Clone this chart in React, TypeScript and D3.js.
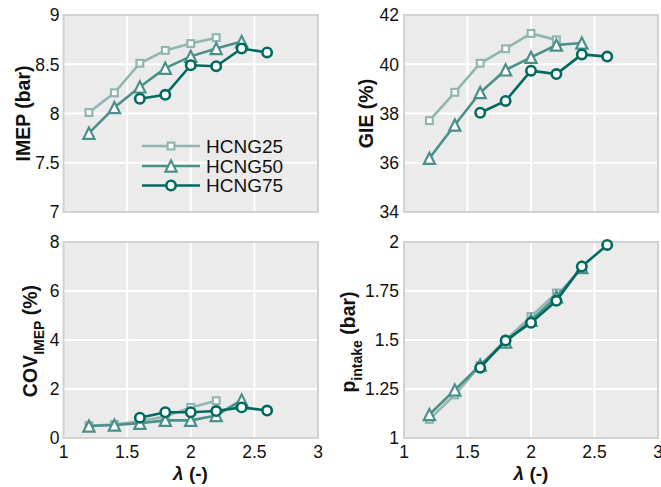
import React from 'react';
import * as d3 from 'd3';

// ---- data ----
const lambda25 = [1.2, 1.4, 1.6, 1.8, 2.0, 2.2];
const lambda50 = [1.2, 1.4, 1.6, 1.8, 2.0, 2.2, 2.4];
const lambda75 = [1.6, 1.8, 2.0, 2.2, 2.4, 2.6];

const imep25 = [8.01, 8.21, 8.51, 8.64, 8.71, 8.77];
const imep50 = [7.8, 8.06, 8.27, 8.46, 8.58, 8.66, 8.73];
const imep75 = [8.15, 8.19, 8.49, 8.48, 8.66, 8.62];

const gie25 = [37.71, 38.86, 40.04, 40.63, 41.25, 40.99];
const gie50 = [36.18, 37.53, 38.85, 39.77, 40.28, 40.78, 40.86];
const gie75 = [38.03, 38.51, 39.74, 39.6, 40.4, 40.31];

const cov25 = [0.5, 0.55, 0.68, 0.88, 1.25, 1.52];
const cov50 = [0.49, 0.53, 0.6, 0.72, 0.72, 0.92, 1.55];
const cov75 = [0.83, 1.05, 1.05, 1.1, 1.25, 1.12];

const pin25 = [1.095, 1.22, 1.37, 1.5, 1.62, 1.74];
const pin50 = [1.12, 1.245, 1.372, 1.49, 1.6, 1.72, 1.87];
const pin75 = [1.359, 1.497, 1.588, 1.7, 1.875, 1.985];

const seriesNames = ['HCNG25', 'HCNG50', 'HCNG75'];
const seriesMarkers = ['square', 'triangle', 'circle'];
const seriesColors = ['#91b5b1', '#4b8f89', '#006a5f'];

const xTicks = [1, 1.5, 2, 2.5, 3];
const xTickLabels = ['1', '1.5', '2', '2.5', '3'];
const imepTicks = [7, 7.5, 8, 8.5, 9];
const imepTickLabels = ['7', '7.5', '8', '8.5', '9'];
const gieTicks = [34, 36, 38, 40, 42];
const gieTickLabels = ['34', '36', '38', '40', '42'];
const covTicks = [0, 2, 4, 6, 8];
const covTickLabels = ['0', '2', '4', '6', '8'];
const pinTicks = [1, 1.25, 1.5, 1.75, 2];
const pinTickLabels = ['1', '1.25', '1.5', '1.75', '2'];

const FONT = '"Liberation Sans", Arial, Helvetica, sans-serif';
const BG = '#ebebeb';
const BORDER = '#d2d2d2';

function Marker({ type, x, y, color }: { type: string; x: number; y: number; color: string }) {
  if (type === 'square') {
    const s = 3.4;
    return <rect x={x - s} y={y - s} width={2 * s} height={2 * s} fill="#fff" stroke={color} strokeWidth={2.2} />;
  }
  if (type === 'triangle') {
    const s = 5.6;
    const p = `M${x},${y - s}L${x - s},${y + s}L${x + s},${y + s}Z`;
    return <path d={p} fill="#fff" stroke={color} strokeWidth={2.2} strokeLinejoin="miter" />;
  }
  return <circle cx={x} cy={y} r={4.7} fill="#fff" stroke={color} strokeWidth={2.6} />;
}

type PanelProps = {
  x0: number; x1: number; y0: number; y1: number;
  yDomain: [number, number];
  yTicks: number[]; yTickLabels: string[];
  xs: number[][]; ys: number[][];
  showXTickLabels: boolean;
  tickGap: number;
};

function Panel(p: PanelProps) {
  const x = d3.scaleLinear().domain([1, 3]).range([p.x0, p.x1]);
  const y = d3.scaleLinear().domain(p.yDomain).range([p.y1, p.y0]);
  const line = d3.line<[number, number]>().x(d => x(d[0])).y(d => y(d[1]));
  return (
    <g>
      <rect x={p.x0} y={p.y0} width={p.x1 - p.x0} height={p.y1 - p.y0} fill={BG} />
      {xTicks.slice(1, -1).map(t => (
        <line key={'gx' + t} x1={x(t)} x2={x(t)} y1={p.y0} y2={p.y1} stroke="#fff" strokeWidth={2} />
      ))}
      {p.yTicks.slice(1, -1).map(t => (
        <line key={'gy' + t} x1={p.x0} x2={p.x1} y1={y(t)} y2={y(t)} stroke="#fff" strokeWidth={2} />
      ))}
      <rect x={p.x0} y={p.y0} width={p.x1 - p.x0} height={p.y1 - p.y0} fill="none" stroke={BORDER} strokeWidth={2} />
      {p.yTicks.map((t, i) => (
        <text key={'ty' + t} x={p.x0 - p.tickGap} y={y(t)} dy="0.36em" textAnchor="end" fontSize={17.5} fill="#111">
          {p.yTickLabels[i]}
        </text>
      ))}
      {p.showXTickLabels && xTicks.map((t, i) => (
        <text key={'tx' + t} x={x(t)} y={p.y1 + 20} textAnchor="middle" fontSize={17.5} fill="#111">
          {xTickLabels[i]}
        </text>
      ))}
      {p.xs.map((xv, si) => {
        const pts: [number, number][] = xv.map((v, i) => [v, p.ys[si][i]]);
        return (
          <g key={'s' + si}>
            <path d={line(pts) || ''} fill="none" stroke={seriesColors[si]} strokeWidth={2.6} />
            {pts.map((d, i) => (
              <Marker key={i} type={seriesMarkers[si]} x={x(d[0])} y={y(d[1])} color={seriesColors[si]} />
            ))}
          </g>
        );
      })}
    </g>
  );
}

export default function App() {
  const xsAll = [lambda25, lambda50, lambda75];
  const legendY = [146, 166, 185.5];
  return (
    <svg width={661} height={487} style={{ position: 'absolute', left: 0, top: 0, background: '#fff' }} fontFamily={FONT}>
      <Panel x0={63.5} x1={318} y0={15} y1={212} yDomain={[7, 9]} yTicks={imepTicks} yTickLabels={imepTickLabels}
        xs={xsAll} ys={[imep25, imep50, imep75]} showXTickLabels={false} tickGap={4} />
      <Panel x0={404} x1={658} y0={15} y1={212} yDomain={[34, 42]} yTicks={gieTicks} yTickLabels={gieTickLabels}
        xs={xsAll} ys={[gie25, gie50, gie75]} showXTickLabels={false} tickGap={5} />
      <Panel x0={63.5} x1={318} y0={242} y1={438} yDomain={[0, 8]} yTicks={covTicks} yTickLabels={covTickLabels}
        xs={xsAll} ys={[cov25, cov50, cov75]} showXTickLabels={true} tickGap={4} />
      <Panel x0={404} x1={658} y0={242} y1={438} yDomain={[1, 2]} yTicks={pinTicks} yTickLabels={pinTickLabels}
        xs={xsAll} ys={[pin25, pin50, pin75]} showXTickLabels={true} tickGap={5} />

      {/* legend */}
      {seriesNames.map((n, i) => (
        <g key={n}>
          <line x1={142} x2={200} y1={legendY[i]} y2={legendY[i]} stroke={seriesColors[i]} strokeWidth={2.6} />
          <Marker type={seriesMarkers[i]} x={171} y={legendY[i]} color={seriesColors[i]} />
          <text x={206} y={legendY[i]} dy="0.35em" fontSize={19} fill="#111">{n}</text>
        </g>
      ))}

      {/* y labels */}
      <text transform="translate(29.5,113.5) rotate(-90)" textAnchor="middle" fontSize={19.5} fontWeight="bold" fill="#111">IMEP (bar)</text>
      <text transform="translate(373,113.5) rotate(-90)" textAnchor="middle" fontSize={19.5} fontWeight="bold" fill="#111">GIE (%)</text>
      <text transform="translate(37,341) rotate(-90)" textAnchor="middle" fontWeight="bold" fill="#111" fontSize={19.5}>
        COV<tspan fontSize={14} dy={7}>IMEP</tspan><tspan dy={-7}> (%)</tspan>
      </text>
      <text transform="translate(355,342) rotate(-90)" textAnchor="middle" fontWeight="bold" fill="#111" fontSize={19.5}>
        p<tspan fontSize={14} dy={7}>intake</tspan><tspan dy={-7}> (bar)</tspan>
      </text>

      {/* x labels */}
      <text x={190.5} y={479.5} textAnchor="middle" fontSize={19} fontWeight="bold" fill="#111">
        <tspan fontStyle="italic">λ</tspan> (-)
      </text>
      <text x={531} y={479.5} textAnchor="middle" fontSize={19} fontWeight="bold" fill="#111">
        <tspan fontStyle="italic">λ</tspan> (-)
      </text>
    </svg>
  );
}
